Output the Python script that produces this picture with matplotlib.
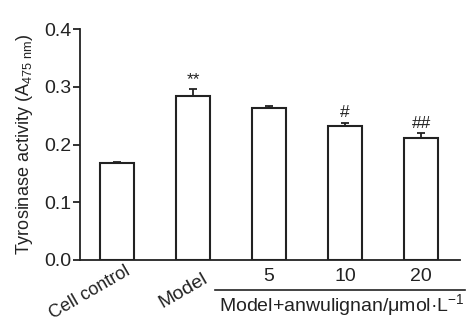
import matplotlib.pyplot as plt
import numpy as np

plt.rcParams['font.family'] = ['Liberation Sans', 'DejaVu Sans']
plt.rcParams['mathtext.fontset'] = 'custom'
plt.rcParams['mathtext.rm'] = 'Liberation Sans'

# data
groups = ['Cell control', 'Model', '5', '10', '20']
values = [0.168, 0.284, 0.264, 0.232, 0.211]
errors = [0.002, 0.012, 0.002, 0.006, 0.009]
marks = ['', '**', '', '#', '##']

fig = plt.figure(figsize=(4.67, 3.24), dpi=100)
ax = fig.add_axes([0.171, 0.198, 0.814, 0.712])

x = np.arange(len(groups))
ax.bar(x, values, width=0.45, color='white', edgecolor='#222222', linewidth=1.5, zorder=3)
ax.errorbar(x, values, yerr=[np.zeros(len(errors)), errors], fmt='none',
            ecolor='#222222', elinewidth=1.3, capsize=3, capthick=1.3, zorder=2)

for i, m in enumerate(marks):
    if m:
        ax.text(x[i], values[i] + errors[i] + 0.004, m, ha='center', va='bottom',
                fontsize=12.5, color='#222222')

ax.set_xlim(-0.49, 4.51)
ax.set_ylim(0, 0.4)
ax.set_yticks([0.0, 0.1, 0.2, 0.3, 0.4])
ax.set_yticklabels(['0.0', '0.1', '0.2', '0.3', '0.4'])
ax.tick_params(axis='y', labelsize=14, length=5, width=1.3, pad=1, colors='#222222')
ax.tick_params(axis='x', length=0, labelsize=14, pad=6, colors='#222222')
ax.set_xticks(x)
ax.set_xticklabels(['', ''] + groups[2:])

# rotated labels for the first two groups
offsets = [(5.5, -2.0, 13), (6.8, -7.5, 14)]
for i, (dx, dy, fs) in enumerate(offsets):
    ax.annotate(groups[i], xy=(x[i], 0), xycoords=('data', 'axes fraction'),
                xytext=(dx, dy), textcoords='offset points', rotation=30,
                rotation_mode='anchor', ha='right', va='top', fontsize=fs,
                color='#222222', annotation_clip=False)

for s in ['top', 'right']:
    ax.spines[s].set_visible(False)
for s in ['left', 'bottom']:
    ax.spines[s].set_linewidth(1.3)
    ax.spines[s].set_color('#222222')

ax.set_ylabel(r'Tyrosinase activity (A$_{\mathregular{475\ nm}}$)', fontsize=13,
              color='#222222', labelpad=7)

# group bracket under dose labels
ax.plot([1.29, 4.58], [-0.052, -0.052], color='#222222', lw=1.2, clip_on=False)
ax.text(2.95, -0.079, r'Model+anwulignan/μmol·L$^{\mathregular{-1}}$', ha='center', va='center',
        fontsize=14, color='#222222', clip_on=False)

fig.savefig('out.png', dpi=100)
